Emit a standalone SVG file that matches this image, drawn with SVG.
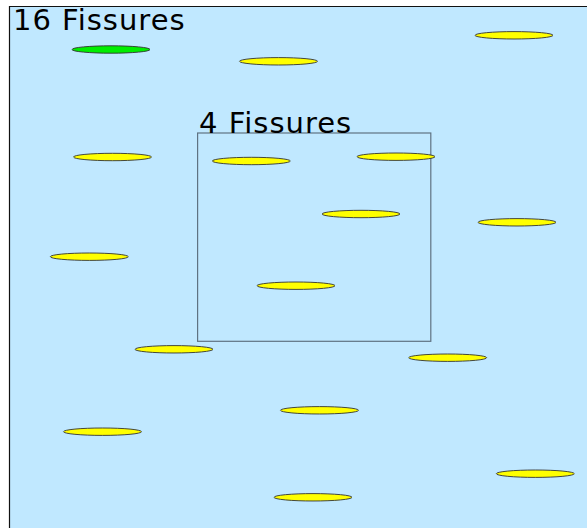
<svg xmlns="http://www.w3.org/2000/svg" width="587" height="528" viewBox="0 0 587 528">
<style>
.bg{fill:#c0e8ff;stroke:none}
.edge{stroke:#111;stroke-width:1.2;fill:none}
.f{fill:#ffff00;stroke:#333;stroke-width:0.9}
.g{fill:#00ee00;stroke:#333;stroke-width:0.9}
.box{fill:none;stroke:#5f7282;stroke-width:1.2}
.t{font-family:"DejaVu Sans",Verdana,sans-serif;font-size:29px;letter-spacing:1px;fill:#000}
</style>
<rect class="bg" x="10" y="7" width="577" height="521"/>
<path class="edge" d="M9.5 528 V6.5 H587"/>
<g id="outer-label"><text class="t" x="13" y="30">16 Fissures</text></g>
<g id="inner-box">
<rect class="box" x="197.6" y="133" width="233.2" height="208.3"/>
<text class="t" x="199" y="132.5">4 Fissures</text>
</g>
<g id="fissures">
<ellipse id="f1" class="g" cx="111" cy="49.5" rx="39" ry="3.7"/>
<ellipse id="f2" class="f" cx="278.5" cy="61.3" rx="39" ry="3.7"/>
<ellipse id="f3" class="f" cx="514" cy="35.3" rx="39" ry="3.7"/>
<ellipse id="f4" class="f" cx="112.5" cy="157" rx="39" ry="3.7"/>
<ellipse id="f5" class="f" cx="251.3" cy="161" rx="39" ry="3.7"/>
<ellipse id="f6" class="f" cx="396" cy="156.7" rx="39" ry="3.7"/>
<ellipse id="f7" class="f" cx="361" cy="214" rx="39" ry="3.7"/>
<ellipse id="f8" class="f" cx="517" cy="222.3" rx="39" ry="3.7"/>
<ellipse id="f9" class="f" cx="89.3" cy="256.7" rx="39" ry="3.7"/>
<ellipse id="f10" class="f" cx="296" cy="285.7" rx="39" ry="3.7"/>
<ellipse id="f11" class="f" cx="174" cy="349.3" rx="39" ry="3.7"/>
<ellipse id="f12" class="f" cx="447.7" cy="357.7" rx="39" ry="3.7"/>
<ellipse id="f13" class="f" cx="319.5" cy="410.3" rx="39" ry="3.7"/>
<ellipse id="f14" class="f" cx="102.5" cy="431.7" rx="39" ry="3.7"/>
<ellipse id="f15" class="f" cx="535.3" cy="473.7" rx="39" ry="3.7"/>
<ellipse id="f16" class="f" cx="313" cy="497.3" rx="39" ry="3.7"/>
</g>
<g id="connectors"/>
</svg>
